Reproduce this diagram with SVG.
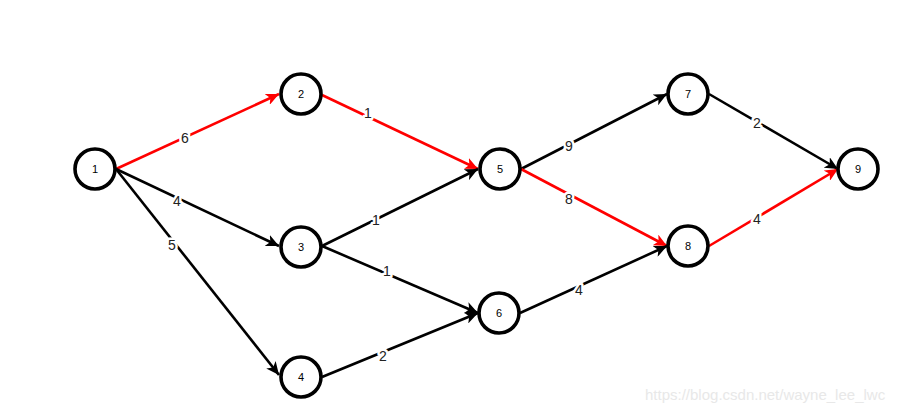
<svg xmlns="http://www.w3.org/2000/svg" width="910" height="412" viewBox="0 0 910 412">
<style>
.n circle{fill:#fff;stroke:#000;stroke-width:3.6}
.n text{font-family:"Liberation Sans",Arial,sans-serif;font-size:11px;fill:#000;text-anchor:middle;dominant-baseline:central}
.e line{stroke-width:2.6;fill:none}
.k{stroke:#000;marker-end:url(#ak)}
.r{stroke:#ff0000;marker-end:url(#ar)}
.lb{font-family:"Liberation Sans",Arial,sans-serif;font-size:14px;fill:#222;text-anchor:middle;dominant-baseline:central;stroke:#fff;stroke-width:5;paint-order:stroke;stroke-linejoin:round}
.wm{font-family:"Liberation Sans",Arial,sans-serif;font-size:15px;fill:#e8e8e8}
</style>
<defs>
<marker id="ak" markerUnits="userSpaceOnUse" markerWidth="14" markerHeight="12" viewBox="0 0 14 12" refX="13" refY="6" orient="auto"><path d="M0,0 L13,6 L0,12 L3.5,6 Z" fill="#000"/></marker>
<marker id="ar" markerUnits="userSpaceOnUse" markerWidth="14" markerHeight="12" viewBox="0 0 14 12" refX="13" refY="6" orient="auto"><path d="M0,0 L13,6 L0,12 L3.5,6 Z" fill="#ff0000"/></marker>
</defs>
<g id="edges" class="e">
<line class="r" x1="116" y1="169" x2="279" y2="94"/>
<line class="k" x1="116" y1="169" x2="279" y2="246"/>
<line class="k" x1="116" y1="169" x2="279" y2="375"/>
<line class="r" x1="322" y1="95" x2="478" y2="169"/>
<line class="k" x1="322" y1="246" x2="478" y2="169"/>
<line class="k" x1="322" y1="246" x2="478" y2="313"/>
<line class="k" x1="322" y1="377" x2="478" y2="313"/>
<line class="k" x1="521" y1="169" x2="667" y2="94"/>
<line class="r" x1="521" y1="169" x2="667" y2="246"/>
<line class="k" x1="520" y1="313" x2="667" y2="246"/>
<line class="k" x1="709" y1="94" x2="838" y2="169"/>
<line class="r" x1="709" y1="246" x2="838" y2="169"/>
<text class="lb" x="185" y="138">6</text>
<text class="lb" x="177" y="201">4</text>
<text class="lb" x="172" y="245">5</text>
<text class="lb" x="368" y="113">1</text>
<text class="lb" x="376" y="220">1</text>
<text class="lb" x="387" y="271">1</text>
<text class="lb" x="383" y="356">2</text>
<text class="lb" x="569" y="146">9</text>
<text class="lb" x="569" y="199">8</text>
<text class="lb" x="579" y="290">4</text>
<text class="lb" x="757" y="123">2</text>
<text class="lb" x="757" y="219">4</text>
</g>
<g id="n1" class="n"><circle cx="95" cy="169" r="20"/><text x="95" y="169">1</text></g>
<g id="n2" class="n"><circle cx="301" cy="94" r="20"/><text x="301" y="94">2</text></g>
<g id="n3" class="n"><circle cx="301" cy="247" r="20"/><text x="301" y="247">3</text></g>
<g id="n4" class="n"><circle cx="301" cy="377" r="20"/><text x="301" y="377">4</text></g>
<g id="n5" class="n"><circle cx="500" cy="169" r="20"/><text x="500" y="169">5</text></g>
<g id="n6" class="n"><circle cx="499" cy="313" r="20"/><text x="499" y="313">6</text></g>
<g id="n7" class="n"><circle cx="688" cy="94" r="20"/><text x="688" y="94">7</text></g>
<g id="n8" class="n"><circle cx="688" cy="246" r="20"/><text x="688" y="246">8</text></g>
<g id="n9" class="n"><circle cx="858" cy="169" r="20"/><text x="858" y="169">9</text></g>
<text class="wm" x="645" y="400">https://blog.csdn.net/wayne_lee_lwc</text>
</svg>
